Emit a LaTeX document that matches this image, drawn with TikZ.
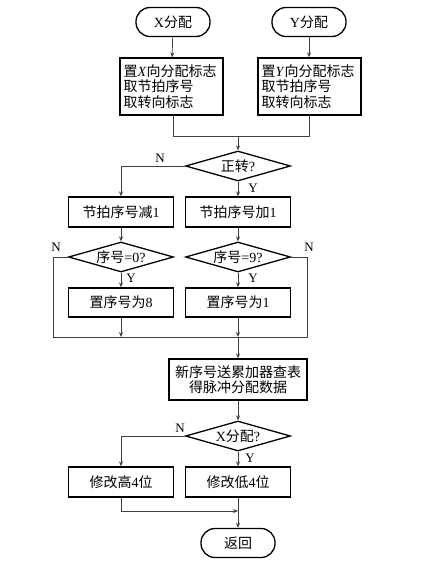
\documentclass[tikz,border=0pt]{standalone}
\usepackage{fontspec}
\setmainfont{Liberation Serif}
\newfontfamily\cjk{Noto Sans CJK SC}
\usetikzlibrary{shapes.geometric,arrows.meta}
\newcommand{\zh}[1]{{\cjk #1}}
\begin{document}
\begin{tikzpicture}[x=1pt,y=-1pt,
  font=\fontsize{14}{15.2}\selectfont,
  term/.style={draw,line width=1.3pt,rounded corners=14pt,minimum width=74pt,minimum height=29pt,inner sep=0pt},
  procbox/.style={draw,line width=1.3pt,minimum width=105pt,minimum height=30pt,inner sep=0pt},
  decision/.style={draw,line width=1.3pt,diamond,aspect=3.5,minimum width=105pt,minimum height=30pt,inner sep=0pt},
  conn/.style={draw=black!75,line width=0.7pt},
  arr/.style={conn,-{Stealth[length=5pt,width=4pt]}},
  lab/.style={font=\fontsize{13}{13}\selectfont,inner sep=0pt}]
\useasboundingbox (0,0) rectangle (442,569);

\node[term] (xs) at (173,22) {X\zh{分配}};
\node[term] (ys) at (309,22) {Y\zh{分配}};
\node[procbox,minimum width=103pt,minimum height=57pt,text width=96pt,align=left] (bx) at (171.5,86.5)
  {\zh{置}\textit{X}\zh{向分配标志}\\\zh{取节拍序号}\\\zh{取转向标志}};
\node[procbox,minimum width=103pt,minimum height=57pt,text width=96pt,align=left] (by) at (309.5,86.5)
  {\zh{置}\textit{Y}\zh{向分配标志}\\\zh{取节拍序号}\\\zh{取转向标志}};
\coordinate (j1) at (238,136);

\node[decision] (d1) at (238,166) {\zh{正转}?};
\node[procbox] (b3) at (121,212) {\zh{节拍序号减}1};
\node[procbox] (b4) at (238,212) {\zh{节拍序号加}1};
\node[decision] (d2) at (121,257) {\zh{序号}=0?};
\node[decision] (d3) at (238,257) {\zh{序号}=9?};
\node[procbox,minimum height=29pt] (b5) at (121,302.5) {\zh{置序号为}8};
\node[procbox,minimum height=29pt] (b6) at (238,302.5) {\zh{置序号为}1};
\coordinate (j2) at (238,337);
\coordinate (cl) at (53,337);
\coordinate (cr) at (307,337);
\node[procbox,minimum width=138pt,minimum height=41pt,align=center] (b7) at (238,379.5)
  {\zh{新序号送累加器查表}\\\zh{得脉冲分配数据}};
\node[decision] (d4) at (238,436) {X\zh{分配}?};
\node[procbox] (b8) at (121,482) {\zh{修改高}4\zh{位}};
\node[procbox] (b9) at (238,482) {\zh{修改低}4\zh{位}};
\coordinate (j3) at (238,511);
\node[term] (ret) at (238,543) {\zh{返回}};

% connectors
\draw[arr] (xs) -- (bx);
\draw[arr] (ys.south) -- (ys.south|-by.north);
\draw[conn] (bx.south-|xs) -- (xs|-j1) -- (ys|-j1) -- (by.south-|ys);
\draw[arr] (j1) -- (d1.north);
\draw[arr] (d1.west) -| (b3.north);
\draw[arr] (d1.south) -- (b4.north);
\draw[arr] (b3.south) -- (d2.north);
\draw[arr] (b4.south) -- (d3.north);
\draw[arr] (d2.south) -- (b5.north);
\draw[arr] (d3.south) -- (b6.north);
\draw[conn] (d2.west) -| (cl) -- (cr) |- (d3.east);
\draw[arr] (b5.south) -- (b5.south|-cl);
\draw[arr] (b6.south) -- (j2);
\draw[arr] (j2) -- (b7.north);
\draw[arr] (b7.south) -- (d4.north);
\draw[arr] (d4.west) -| (b8.north);
\draw[arr] (d4.south) -- (b9.north);
\draw[arr] (b8.south) |- (j3);
\draw[arr] (b9.south) -- (ret.north);

% labels
\node[lab] (n1) at (160,158) {N};
\node[lab] (y1) at (253,188) {Y};
\node[lab] (n2) at (56,247) {N};
\node[lab] (n3) at (309,247) {N};
\node[lab] (y2) at (131,278) {Y};
\node[lab] (y3) at (253,278) {Y};
\node[lab] (n4) at (180,428) {N};
\node[lab] (y4) at (250,458) {Y};
\end{tikzpicture}
\end{document}
